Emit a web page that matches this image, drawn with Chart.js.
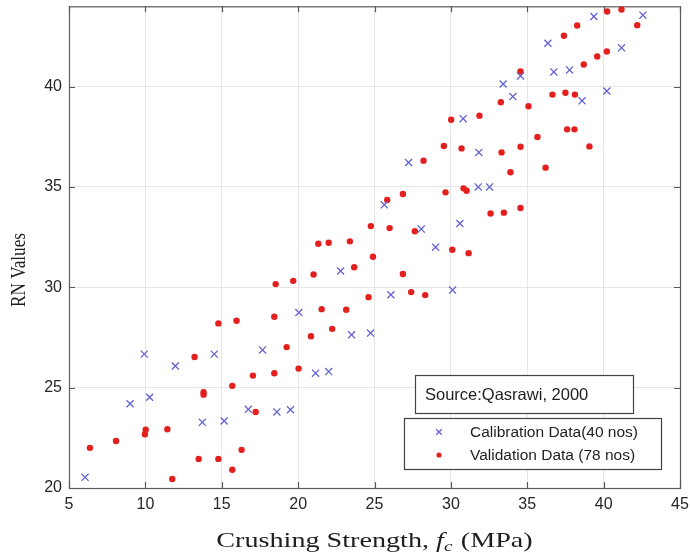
<!DOCTYPE html>
<html>
<head>
<meta charset="utf-8">
<script src="https://cdn.jsdelivr.net/npm/chart.js@4/dist/chart.umd.min.js"></script>
<style>
  html, body { margin: 0; padding: 0; background: #ffffff; }
  #wrap { width: 690px; height: 555px; }
</style>
</head>
<body>
<div id="wrap"><canvas id="c" width="690" height="555"></canvas></div>
<script>
// Calibration data (40 nos): crushing strength (MPa) and rebound number
const calibStrength = [6.05, 9.0, 9.93, 10.28, 11.96, 13.73, 14.51, 15.16, 16.74, 17.67,
  18.61, 19.5, 20.05, 21.14, 22.0, 22.78, 23.5, 24.74, 25.64, 26.07,
  27.23, 28.06, 29.0, 30.11, 30.59, 30.8, 31.83, 31.79, 32.53, 33.42,
  34.06, 34.56, 36.35, 36.74, 37.77, 38.59, 39.36, 40.21, 41.17, 42.57];
const calibRN = [20.53, 24.2, 26.67, 24.52, 26.08, 23.27, 26.67, 23.34, 23.92, 26.88,
  23.79, 23.9, 28.74, 25.72, 25.8, 30.81, 27.63, 27.72, 34.11, 29.63,
  36.22, 32.9, 32.0, 29.86, 33.18, 38.4, 36.72, 35.0, 35.0, 40.13,
  39.5, 40.53, 42.16, 40.73, 40.83, 39.29, 43.49, 39.78, 41.93, 43.56];

// Validation data (78 nos)
const validStrength = [6.37, 8.08, 10.02, 9.97, 11.44, 11.76, 13.22, 13.49, 13.81, 13.81,
  14.78, 14.78, 15.69, 15.69, 15.97, 16.3, 17.22, 17.04, 18.44, 18.53,
  18.44, 19.25, 19.68, 20.03, 20.84, 21.01, 21.32, 21.54, 22.0, 22.23,
  23.15, 23.39, 23.67, 24.61, 24.9, 24.76, 25.99, 25.83, 26.86, 27.4,
  28.32, 30.09, 31.16, 26.86, 27.64, 28.21, 29.54, 29.65, 30.02, 30.7,
  30.83, 31.03, 31.87, 32.6, 33.47, 33.27, 33.32, 33.9, 34.56, 35.08,
  34.56, 34.56, 35.67, 36.2, 36.65, 37.4, 37.5, 37.61, 38.09, 38.12,
  38.27, 38.7, 39.07, 39.58, 40.21, 40.23, 41.17, 42.2];
const validRN = [22.0, 22.34, 22.9, 22.68, 22.93, 20.45, 26.53, 21.45, 24.77, 24.65,
  28.2, 21.45, 25.09, 20.91, 28.33, 21.9, 23.79, 25.6, 28.53, 30.16,
  25.72, 27.02, 30.32, 25.95, 27.56, 30.64, 32.17, 28.91, 32.22, 27.93,
  28.88, 32.29, 31.0, 29.51, 31.52, 33.05, 32.95, 34.35, 30.66, 29.76,
  29.61, 31.87, 31.7, 34.65, 32.79, 36.31, 37.04, 34.73, 38.35, 36.92,
  34.93, 34.81, 38.55, 33.68, 33.72, 39.22, 36.72, 35.73, 40.75, 39.02,
  37.0, 33.95, 37.49, 35.96, 39.6, 42.53, 39.69, 37.87, 37.87, 39.6,
  43.04, 41.1, 37.02, 41.5, 41.75, 43.74, 43.84, 43.06];

// Axis ranges and tick labels
const xTicks = [5, 10, 15, 20, 25, 30, 35, 40, 45];
const yTicks = [20, 25, 30, 35, 40];
const xRange = [5, 45];
const yRange = [20, 44];

const seriesNames = ['Calibration Data(40 nos)', 'Validation Data (78 nos)'];
const sourceNote = 'Source:Qasrawi, 2000';

const CAL_COLOR = '#6262d2';
const VAL_COLOR = '#e3201e';

const pairs = (xs, ys) => xs.map((x, i) => ({ x: x, y: ys[i] }));

// Box around the axes with inward tick marks, axis titles and the legend boxes
const decorations = {
  id: 'decorations',
  beforeDatasetsDraw(chart) {
    const { ctx, chartArea: a, scales } = chart;
    ctx.save();
    ctx.strokeStyle = '#5a5a5a';
    ctx.lineWidth = 1.2;
    ctx.strokeRect(a.left + 0.5, a.top + 0.5, a.right - a.left, a.bottom - a.top);
    const len = 6;
    ctx.beginPath();
    xTicks.forEach(v => {
      const px = Math.round(scales.x.getPixelForValue(v)) + 0.5;
      ctx.moveTo(px, a.bottom); ctx.lineTo(px, a.bottom - len);
      ctx.moveTo(px, a.top); ctx.lineTo(px, a.top + len);
    });
    yTicks.forEach(v => {
      const py = Math.round(scales.y.getPixelForValue(v)) + 0.5;
      ctx.moveTo(a.left, py); ctx.lineTo(a.left + len, py);
      ctx.moveTo(a.right, py); ctx.lineTo(a.right - len, py);
    });
    ctx.stroke();
    ctx.restore();
  },
  afterDraw(chart) {
    const { ctx, chartArea: a } = chart;
    ctx.save();
    ctx.fillStyle = '#1e1e1e';

    // x-axis title: Crushing Strength, f_c (MPa)
    const serif = '"Liberation Serif", "Times New Roman", serif';
    const fs = 22;
    const stretch = 1.28;
    const partA = 'Crushing Strength, ';
    const partF = 'f';
    const partC = 'c';
    const partB = ' (MPa)';
    const subFont = 'italic ' + Math.round(fs * 0.7) + 'px ' + serif;
    ctx.font = fs + 'px ' + serif;
    const wA = ctx.measureText(partA).width;
    const wB = ctx.measureText(partB).width;
    ctx.font = 'italic ' + fs + 'px ' + serif;
    const wF = ctx.measureText(partF).width;
    ctx.font = subFont;
    const wC = ctx.measureText(partC).width;
    const total = wA + wF + wC + 1 + wB;
    ctx.save();
    ctx.translate((a.left + a.right) / 2, 547);
    ctx.scale(stretch, 1);
    let x0 = -total / 2;
    ctx.textBaseline = 'alphabetic';
    ctx.textAlign = 'left';
    ctx.font = fs + 'px ' + serif;
    ctx.fillText(partA, x0, 0); x0 += wA;
    ctx.font = 'italic ' + fs + 'px ' + serif;
    ctx.fillText(partF, x0, 0); x0 += wF;
    ctx.font = subFont;
    ctx.fillText(partC, x0, 4); x0 += wC + 1;
    ctx.font = fs + 'px ' + serif;
    ctx.fillText(partB, x0, 0);
    ctx.restore();

    // y-axis title
    ctx.save();
    ctx.translate(25, 270);
    ctx.rotate(-Math.PI / 2);
    ctx.scale(0.82, 1);
    ctx.textAlign = 'center';
    ctx.textBaseline = 'alphabetic';
    ctx.font = '21px ' + serif;
    ctx.fillText('RN Values', 0, 0);
    ctx.restore();

    const sans = '"Liberation Sans", Arial, sans-serif';

    // source note box
    ctx.fillStyle = '#ffffff';
    ctx.fillRect(415, 375, 218, 38);
    ctx.strokeStyle = '#444444';
    ctx.lineWidth = 1.2;
    ctx.strokeRect(415.5, 375.5, 218, 38);
    ctx.fillStyle = '#1e1e1e';
    ctx.font = '16.5px ' + sans;
    ctx.textAlign = 'left';
    ctx.textBaseline = 'middle';
    ctx.fillText(sourceNote, 425, 395);

    // legend box
    ctx.fillStyle = '#ffffff';
    ctx.fillRect(404, 418, 257, 51);
    ctx.strokeStyle = '#444444';
    ctx.strokeRect(404.5, 418.5, 257, 51);
    const ds = chart.data.datasets;
    const rows = [432, 455];
    ds.forEach((d, i) => {
      ctx.strokeStyle = d.borderColor;
      ctx.fillStyle = d.backgroundColor;
      ctx.lineWidth = d.borderWidth;
      Chart.helpers.drawPoint(ctx, {
        pointStyle: d.pointStyle,
        radius: d.pointRadius * 0.8,
        borderWidth: d.borderWidth,
        rotation: 0
      }, 439, rows[i]);
      ctx.fillStyle = '#1e1e1e';
      ctx.font = '15.5px ' + sans;
      ctx.textAlign = 'left';
      ctx.textBaseline = 'middle';
      ctx.fillText(d.label, 470, rows[i] + 1);
    });
    ctx.restore();
  }
};

const noEdgePadding = s => {
  s.paddingTop = 0; s.paddingBottom = 0; s.paddingLeft = 0; s.paddingRight = 0;
};

new Chart(document.getElementById('c'), {
  type: 'scatter',
  data: {
    datasets: [
      {
        label: seriesNames[0],
        data: pairs(calibStrength, calibRN),
        pointStyle: 'crossRot',
        pointRadius: 5,
        pointHoverRadius: 5,
        borderWidth: 1.3,
        borderColor: CAL_COLOR,
        backgroundColor: CAL_COLOR
      },
      {
        label: seriesNames[1],
        data: pairs(validStrength, validRN),
        pointStyle: 'circle',
        pointRadius: 3.2,
        pointHoverRadius: 3.2,
        borderWidth: 0,
        borderColor: VAL_COLOR,
        backgroundColor: VAL_COLOR
      }
    ]
  },
  options: {
    responsive: false,
    animation: false,
    devicePixelRatio: 1,
    layout: { padding: { top: 6, right: 10, left: 0, bottom: 0 } },
    plugins: {
      legend: { display: false },
      tooltip: { enabled: false },
      title: { display: false }
    },
    scales: {
      x: {
        type: 'linear',
        min: xRange[0],
        max: xRange[1],
        afterBuildTicks: s => { s.ticks = xTicks.map(v => ({ value: v })); },
        afterFit: s => { s.height = 67; noEdgePadding(s); },
        grid: { color: '#e6e6e6', lineWidth: 1, drawTicks: false },
        border: { display: false },
        ticks: {
          padding: 7,
          color: '#262626',
          font: { family: '"Liberation Sans", Arial, sans-serif', size: 16 },
          maxRotation: 0
        }
      },
      y: {
        type: 'linear',
        min: yRange[0],
        max: yRange[1],
        afterBuildTicks: s => { s.ticks = yTicks.map(v => ({ value: v })); },
        afterFit: s => { s.width = 69; noEdgePadding(s); },
        grid: { color: '#e6e6e6', lineWidth: 1, drawTicks: false },
        border: { display: false },
        ticks: {
          padding: 7,
          color: '#262626',
          font: { family: '"Liberation Sans", Arial, sans-serif', size: 16 }
        }
      }
    }
  },
  plugins: [decorations]
});
</script>
</body>
</html>
